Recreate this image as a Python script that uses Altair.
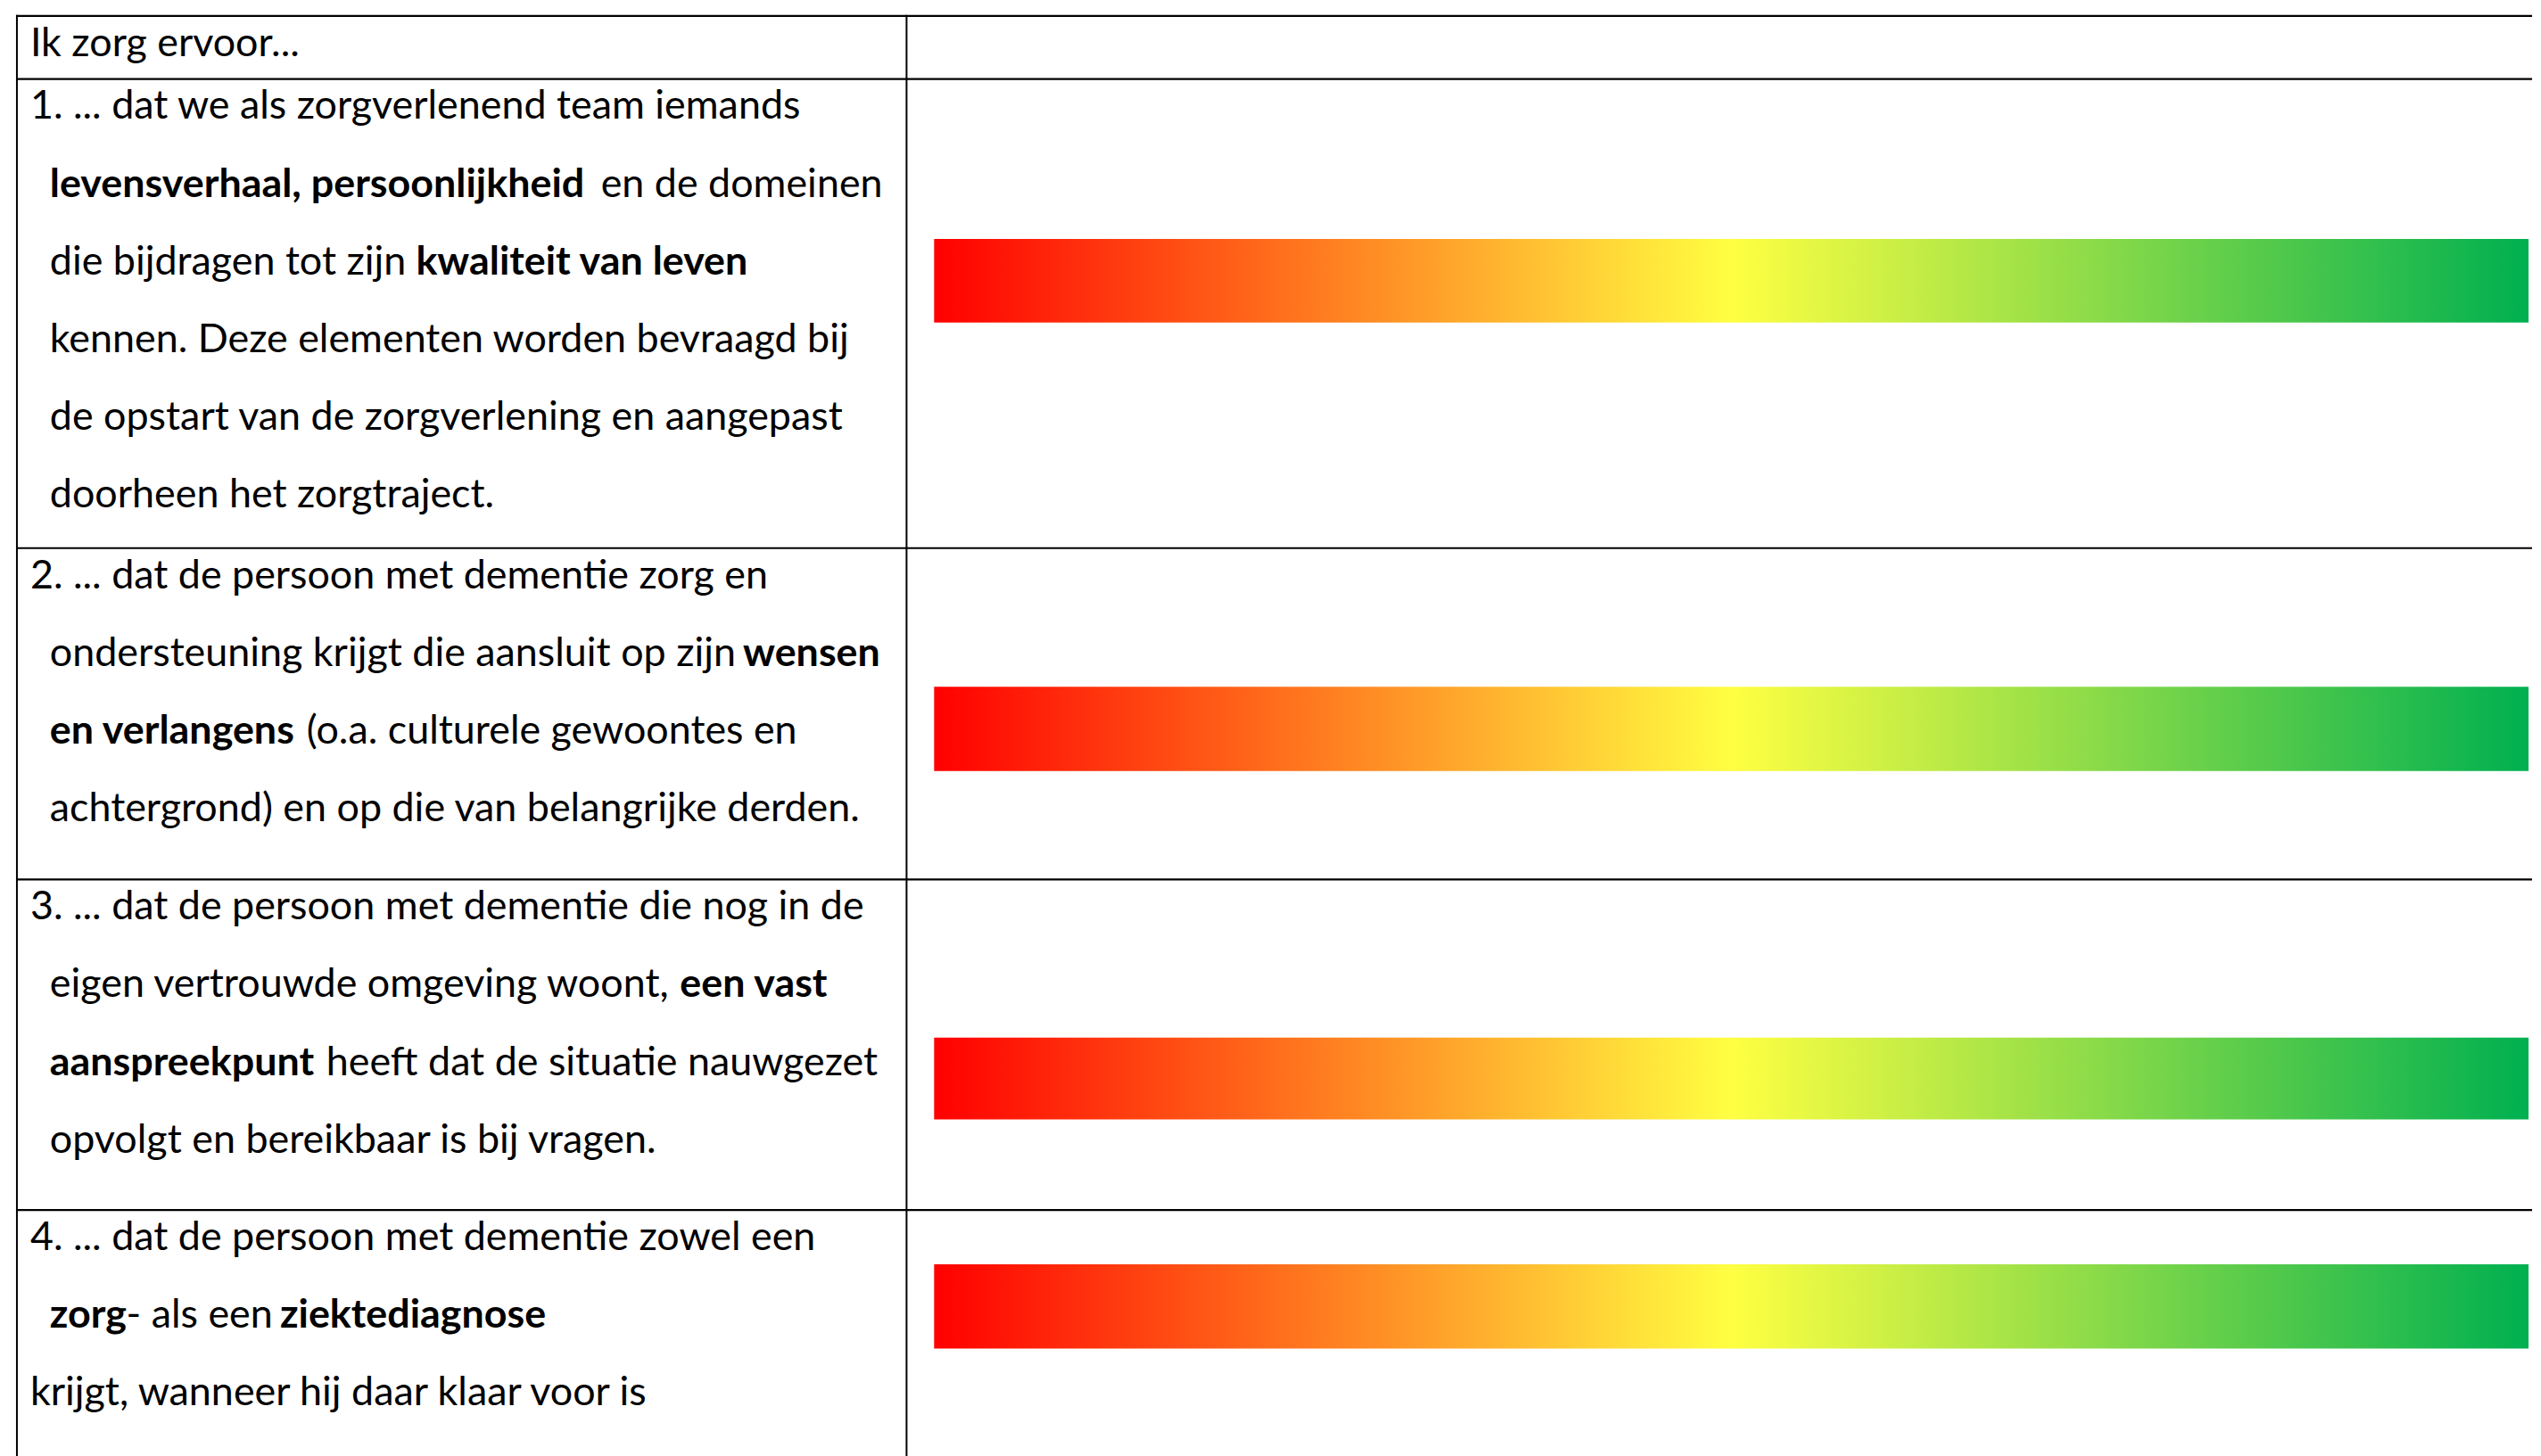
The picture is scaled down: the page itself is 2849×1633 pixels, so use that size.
import altair as alt
import pandas as pd

# ---------------- content (text of the table) ----------------
seg_text = [
    "Ik zorg ervoor...",
    "1. ... dat we als zorgverlenend team iemands",
    "levensverhaal, persoonlijkheid", "en de domeinen",
    "die bijdragen tot zijn", "kwaliteit van leven",
    "kennen. Deze elementen worden bevraagd bij",
    "de opstart van de zorgverlening en aangepast",
    "doorheen het zorgtraject.",
    "2. ... dat de persoon met dementie zorg en",
    "ondersteuning krijgt die aansluit op zijn", "wensen",
    "en verlangens", "(o.a. culturele gewoontes en",
    "achtergrond) en op die van belangrijke derden.",
    "3. ... dat de persoon met dementie die nog in de",
    "eigen vertrouwde omgeving woont,", "een vast",
    "aanspreekpunt", "heeft dat de situatie nauwgezet",
    "opvolgt en bereikbaar is bij vragen.",
    "4. ... dat de persoon met dementie zowel een",
    "zorg", "- als een", "ziektediagnose",
    "krijgt, wanneer hij daar klaar voor is",
]
seg_bold = [
    False,
    False,
    True, False,
    False, True,
    False,
    False,
    False,
    False,
    False, True,
    True, False,
    False,
    False,
    False, True,
    True, False,
    False,
    False,
    True, False, True,
    False,
]
# layout: left edge and baseline of each text segment (page px)
seg_x = [
    34,
    34,
    56, 676,
    56, 468,
    56,
    56,
    56,
    34,
    56, 836,
    56, 345,
    56,
    34,
    56, 765,
    56, 367,
    56,
    34,
    56, 142, 315,
    34,
]
seg_y = [
    60,
    131,
    218.5, 218.5,
    306, 306,
    393.5,
    481,
    568.5,
    659,
    746.5, 746.5,
    834, 834,
    921.5,
    1032,
    1119.5, 1119.5,
    1207, 1207,
    1294.5,
    1404,
    1491.5, 1491.5, 1491.5,
    1579,
]

# rating scale bars (one per statement)
bar_item = [1, 2, 3, 4]
bar_x0 = [1051, 1051, 1051, 1051]
bar_x1 = [2845, 2845, 2845, 2845]
bar_top = [266, 770, 1165, 1420]
bar_bottom = [360, 865, 1257, 1515]

# table grid lines
hline_y = [15, 86, 614, 987, 1359]
vline_x = [19, 1020]
TABLE_LEFT, TABLE_RIGHT = 18, 2849
TABLE_TOP, TABLE_BOTTOM = 14, 1640

# gradient colours
grad_colors = ["#FF0000", "#FFFF42", "#00B050"]
grad_offsets = [0.0, 0.5, 1.0]

# ---------------- frame ----------------
W, H = 2833, 1612
xs = alt.Scale(domain=[8, 8 + W], nice=False, zero=False)
ys = alt.Scale(domain=[8, 8 + H], nice=False, zero=False, reverse=True)

texts = pd.DataFrame({"text": seg_text, "bold": seg_bold, "x": seg_x, "y": seg_y})
bars = pd.DataFrame({"item": bar_item, "x0": bar_x0, "x1": bar_x1, "y0": bar_top, "y1": bar_bottom})
hlines = pd.DataFrame({"y": hline_y, "x0": TABLE_LEFT, "x1": TABLE_RIGHT})
vlines = pd.DataFrame({"x": vline_x, "y0": TABLE_TOP, "y1": TABLE_BOTTOM})

gradient = alt.Gradient(
    gradient="linear",
    stops=[alt.GradientStop(color=c, offset=o) for c, o in zip(grad_colors, grad_offsets)],
    x1=0, x2=1, y1=0, y2=0,
)

bar_layer = alt.Chart(bars).mark_rect(color=gradient).encode(
    x=alt.X("x0:Q", scale=xs, axis=None),
    x2="x1:Q",
    y=alt.Y("y0:Q", scale=ys, axis=None),
    y2="y1:Q",
)

h_layer = alt.Chart(hlines).mark_rule(color="black", strokeWidth=2.2).encode(
    x=alt.X("x0:Q", scale=xs, axis=None),
    x2="x1:Q",
    y=alt.Y("y:Q", scale=ys, axis=None),
)
v_layer = alt.Chart(vlines).mark_rule(color="black", strokeWidth=2).encode(
    x=alt.X("x:Q", scale=xs, axis=None),
    y=alt.Y("y0:Q", scale=ys, axis=None),
    y2="y1:Q",
)

FONT = "Lato"
FS = 45
normal_layer = alt.Chart(texts).transform_filter("!datum.bold").mark_text(
    align="left", baseline="alphabetic", font=FONT, fontSize=FS, color="black", fontWeight="normal"
).encode(
    x=alt.X("x:Q", scale=xs, axis=None),
    y=alt.Y("y:Q", scale=ys, axis=None),
    text="text:N",
)
bold_layer = alt.Chart(texts).transform_filter("datum.bold").mark_text(
    align="left", baseline="alphabetic", font=FONT, fontSize=FS, color="black", fontWeight="bold"
).encode(
    x=alt.X("x:Q", scale=xs, axis=None),
    y=alt.Y("y:Q", scale=ys, axis=None),
    text="text:N",
)

chart = alt.layer(bar_layer, h_layer, v_layer, normal_layer, bold_layer).properties(
    width=W, height=H, padding=0, background="white"
).configure_view(stroke=None)

chart.save("out.html", embed_options={"renderer": "svg", "actions": False})
